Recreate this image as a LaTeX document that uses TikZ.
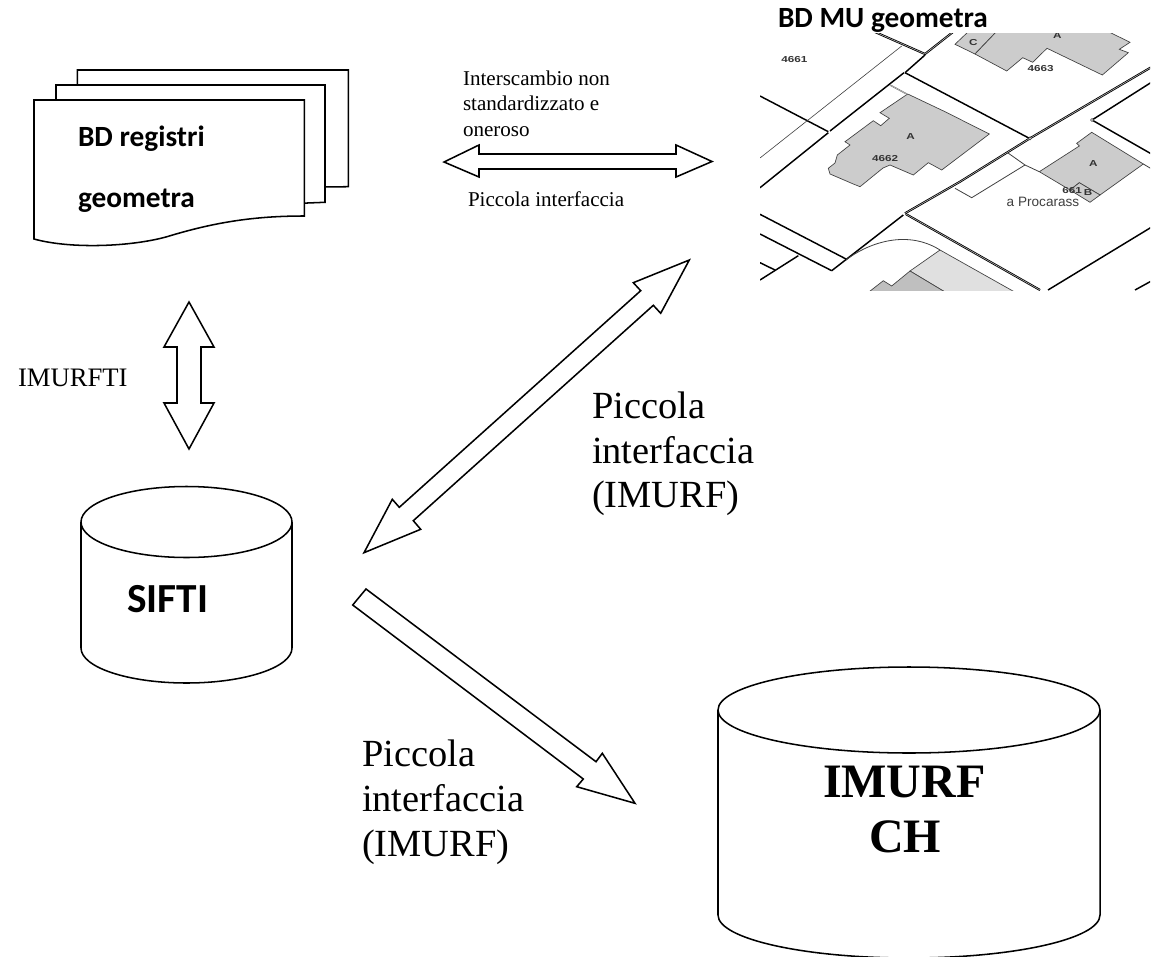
\documentclass[tikz,border=0pt]{standalone}
\usepackage{fontspec}
\setmainfont{Liberation Serif}
\newfontfamily\calfont{Carlito}
\newfontfamily\mapfont{Liberation Sans}
\tikzset{
  outline/.style={draw=black,line width=1.15pt,line join=miter,fill=white},
  txt/.style={anchor=base west,inner sep=0pt,outer sep=0pt,text=black},
  smallserif/.style={txt,font=\fontsize{15.8}{18}\selectfont},
  largeserif/.style={txt,font=\fontsize{28.8}{34}\selectfont},
  calbold/.style={txt,font=\calfont\bfseries\fontsize{22}{26}\selectfont},
  mapthick/.style={draw=black,line width=1.1pt},
  mapthin/.style={draw=black!75,line width=0.45pt},
  mapdouble/.style={draw=black,line width=1.6pt,postaction={draw=white!80!black,line width=0.35pt}},
  bldg/.style={draw=black!75,line width=0.5pt,fill=black!20},
  maplabel/.style={inner sep=0pt,font=\mapfont\bfseries\fontsize{6.5}{8}\selectfont,xscale=1.35,text=black!80},
}
\begin{document}
\begin{tikzpicture}[x=0.75pt,y=-0.75pt]
\clip (0,0) rectangle (1151,956);
\fill[white] (0,0) rectangle (1151,956);

% stacked documents
\draw[outline] (77.3,100) -- (77.3,70) -- (348.3,70) -- (348.3,186.7) -- (300,187.3);
\draw[outline] (56,110) -- (56,85) -- (325,85) -- (325,202.3) -- (300,203.3);
\draw[outline] (34,100) -- (304.3,100) -- (304.3,216)
  .. controls (255,216) and (215,222) .. (167,236.7)
  .. controls (130,247) and (70,249) .. (34,239) -- cycle;
\node[calbold] (regA) at (78,146) {BD registri};
\node[calbold] (regB) at (78,207) {geometra};

% horizontal double arrow
\draw[outline] (444,162) -- (479,145) -- (479,154) -- (676,154) -- (676,145) -- (712,161.5)
  -- (676,177) -- (676,169) -- (479,169) -- (479,177) -- cycle;
\node[smallserif] (t1) at (463,85) {Interscambio non};
\node[smallserif] (t2) at (463,110.7) {standardizzato e};
\node[smallserif] (t3) at (463,136.7) {oneroso};
\node[smallserif] (t4) at (468,206.7) {Piccola interfaccia};

% vertical double arrow
\draw[outline] (189,302) -- (214,347) -- (201,347) -- (201,403) -- (214,403) -- (189,449)
  -- (164,403) -- (177,403) -- (177,347) -- (164,347) -- cycle;
\node[txt,font=\fontsize{20}{24}\selectfont] (imft) at (18,386) {IMURFTI};

% diagonal double arrow
\draw[outline] (689.3,260) -- (633.3,282.7) -- (640.7,290.7) -- (399.3,507.3) -- (392.3,499.3)
  -- (364,552.7) -- (420.7,529.3) -- (413.3,520.7) -- (653.3,305.3) -- (660.7,313.3) -- cycle;
\node[largeserif] (p1) at (592,418) {Piccola};
\node[largeserif] (p2) at (592,463) {interfaccia};
\node[largeserif] (p3) at (592,507) {(IMURF)};

% single arrow
\draw[outline] (366,589) -- (596,761.7) -- (602.3,753.3) -- (635,803.3) -- (576.7,786.7)
  -- (583.3,779) -- (352.7,605) -- cycle;
\node[largeserif] (q1) at (362,766) {Piccola};
\node[largeserif] (q2) at (362,811) {interfaccia};
\node[largeserif] (q3) at (362,856) {(IMURF)};

% SIFTI cylinder
\draw[outline] (81,522) -- (81,648) arc[start angle=180,end angle=0,x radius=105.5,y radius=35] -- (292,522);
\draw[outline] (186.5,522) ellipse[x radius=105.5,y radius=35.5];
\node[txt,font=\calfont\bfseries\fontsize{31}{36}\selectfont] (sifti) at (127,612) {SIFTI};

% IMURF CH cylinder
\draw[outline] (718,710) -- (718,915) arc[start angle=180,end angle=0,x radius=191,y radius=43] -- (1100,710);
\draw[outline] (909,710) ellipse[x radius=191,y radius=43];
\node[txt,font=\bfseries\fontsize{36}{42}\selectfont] (imurf) at (823,797) {IMURF};
\node[txt,font=\bfseries\fontsize{36}{42}\selectfont] (ch) at (869,852) {CH};

% cadastral map
\begin{scope}
\clip (760,34) rectangle (1150,290);
\draw[bldg] (907.7,94) -- (945,111.7) -- (989.3,134) -- (941.7,170) -- (928.3,162.7) -- (913.3,175)
  -- (890,165) -- (883,168) -- (860,186.7) -- (853.3,184) -- (830,174) -- (828.3,168.3) -- (835,163)
  -- (837.3,155) -- (850,145) -- (845,141.7) -- (873.3,120.7) -- (880.7,125.7) -- (889.3,118.3)
  -- (880,112.7) -- cycle;
\draw[bldg] (955,44.3) -- (970,30) -- (998,30) -- (975,54) -- cycle;
\draw[bldg] (998,30) -- (1105,30) -- (1130,42.3) -- (1119.3,49.3) -- (1128.3,52.7) -- (1102.3,75)
  -- (1047,48.3) -- (1032.7,62.3) -- (1022.7,57.7) -- (1006.7,71) -- (975,54) -- cycle;
\draw[bldg] (1091.7,132.3) -- (1143.3,164) -- (1100,195) -- (1079.3,182.7) -- (1070,190)
  -- (1039.3,171.7) -- (1079.3,146) -- (1076.7,143.3) -- cycle;
\draw[bldg] (1079.3,182.7) -- (1100,195) -- (1090,202.3) -- (1070,190) -- cycle;
\draw[bldg,fill=black!12] (940,250) -- (1020,295) -- (950,295) -- (910,271) -- cycle;
\draw[bldg,fill=black!25] (910,271) -- (950,295) -- (865,295) -- (883.3,280.7) -- (891.7,286) -- cycle;

\draw[mapthick] (760,96) -- (828.3,131.7);
\draw[mapthick] (830,131) -- (904,72.7);
\draw[mapthick] (905,72.7) -- (925,55);
\draw[mapthick] (760,187.7) -- (828.3,132.7);
\draw[mapdouble] (875,32) -- (925,54) -- (953,32);
\draw[mapthin] (760,158) -- (901.7,46);
\draw[mapdouble,line width=1pt,draw=black!60] (890,85) -- (906.7,94);
\draw[mapthick] (905,72.7) -- (1029.3,138.3);
\draw[mapthick] (760,214.3) -- (846,259);
\draw[mapthick] (760,234) -- (831.7,270.7);
\draw[mapthick] (831.7,270.7) -- (903.3,215);
\draw[mapdouble] (905,213.3) -- (960,181.7) -- (1030,138.3) -- (1155,65);
\draw[mapthick] (760,262.7) -- (775,270);
\draw[mapthick] (760,280) -- (798.3,255.7);
\draw[mapdouble] (905.7,214) -- (1040,290);
\draw[mapthick] (1048,290) -- (1155,225);
\draw[mapthick] (1092,120) -- (1155,80);
\draw[mapthick] (1092,120) -- (1155,156);
\draw[mapthick] (1135,290) -- (1155,279);
\draw[mapthin,line width=0.6pt] (846,260) .. controls (865,245) and (905,228) .. (940,250);
\draw[mapthin,line width=0.6pt] (1008,153) -- (1025,165) -- (1039.3,171.7);
\draw[mapthin,line width=0.6pt] (1025,165) -- (971.7,197.7) -- (955,188.3);
\draw[mapthin,line width=0.6pt] (1143.3,164) -- (1155,171);
\draw[mapthin,line width=0.5pt,fill=white] (1092,120) circle[radius=1.5];
\draw[mapthin,line width=0.5pt,fill=white] (1030,138.3) circle[radius=1.5];

\node[maplabel] (m1) at (794.3,60) {4661};
\node[maplabel] (m2) at (1040.7,69) {4663};
\node[maplabel] (m3) at (885,158.5) {4662};
\node[maplabel] (m4) at (1057.3,36) {A};
\node[maplabel] (m5) at (973.3,42.7) {C};
\node[maplabel] (m6) at (910.7,136.7) {A};
\node[maplabel] (m7) at (1093.3,163.3) {A};
\node[maplabel] (m8) at (1072,190.5) {661};
\node[maplabel] (m9) at (1088,192.7) {B};
\node[inner sep=0pt,font=\mapfont\fontsize{10.2}{12}\selectfont,text=black!75] (m10) at (1043,202) {a Procarass};
\end{scope}
\node[calbold] (title) at (778,28) {BD MU geometra};
\end{tikzpicture}
\end{document}
